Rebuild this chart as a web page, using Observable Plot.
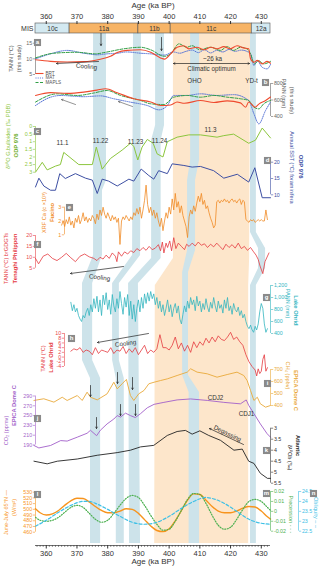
<!DOCTYPE html>
<html>
<head>
<meta charset="utf-8">
<script src="https://cdn.jsdelivr.net/npm/d3@7"></script>
<script src="https://cdn.jsdelivr.net/npm/@observablehq/plot@0.6"></script>
<style>
html,body{margin:0;padding:0;background:#fff;}
#chart{position:relative;width:320px;height:569px;overflow:hidden;}
#chart svg{position:absolute;left:0;top:0;overflow:visible;}
</style>
</head>
<body>
<div id="chart"></div>
<script>
// ---------------- DATA ----------------
// top/bottom axis ticks (ka BP)
const ageTicks = [360, 370, 380, 390, 400, 410, 420, 430];
const minorTicks = [357,358,359,361,362,363,364,365,366,367,368,369,371,372,373,374,375,376,377,378,379,381,382,383,384,385,386,387,388,389,391,392,393,394,395,396,397,398,399,401,402,403,404,405,406,407,408,409,411,412,413,414,415,416,417,418,419,421,422,423,424,425,426,427,428,429,431,432];

// MIS stages
const misNames = ["10c", "11a", "11b", "11c", "12a"];
const misStart = [356.5, 367.6, 390.0, 400.5, 426.9];
const misEnd   = [367.6, 390.0, 400.5, 426.9, 433.0];
const misWarm  = [false, true, true, true, false];

// shaded bands: [row (px), age left, age right]
const bandOrange = [[33,401.4,426.5],[258,401.4,426.2],[285,395.5,425.9],[543,395.3,425.9]];
const bandA = [[33,375.4,379.6],[180,375.4,379.6],[190,375.4,378.3],[255,375.4,378.3],[283,371.8,375.1],[360,371.8,375.1],[378,374.4,377.7],[543,374.4,377.7]];
const bandB = [[33,388.4,391.0],[255,388.1,390.7],[283,381.6,383.8],[360,381.6,383.8],[378,382.8,385.4],[543,382.8,385.4]];
const bandC = [[33,395.6,398.5],[125,395.6,398.5],[140,394.3,397.4],[258,394.3,397.4],[283,386.8,390.0],[543,387.1,390.7]];
const bandD = [[33,407.0,409.9],[160,407.0,409.9],[180,406.0,408.6],[250,406.0,408.6],[272,404.4,406.3],[375,404.4,406.3],[392,406.5,409.9],[543,406.5,409.9]];
const bandE = [[33,426.5,428.4],[232,426.5,428.4],[248,429.1,431.4],[268,429.1,431.4],[285,426.5,428.4],[543,426.5,428.4]];

// (a) TANN this study
const aAgeBRT = [356.5,361.4,366.8,372.2,377.6,380.9,383.1,386.3,390.7,394.0,397.2,398.5,400.5,402.6,404.8,406.4,409.0,411.4,413.6,415.6,417.8,419.9,422.1,424.3,425.9,426.5,427.6,428.7,430.3,431.9,433.0];
const aBRT    = [9.7,9.2,9.0,9.1,9.9,10.8,12.0,12.7,12.9,12.1,10.3,9.9,11.6,13.7,14.2,13.2,13.7,12.9,13.7,13.2,13.9,13.2,14.2,13.5,13.2,10.0,8.9,9.5,8.4,9.2,8.6];
const aAgeMAT = [356.5,361.4,366.8,372.2,376.6,379.8,383.1,386.3,390.7,394.0,398.5,401.4,403.5,405.5,407.5,409.5,411.5,413.5,415.5,417.5,419.5,421.5,423.5,425.5,426.5,427.6,428.7,430.3,431.9,433.0];
const aMAT    = [10.0,11.6,12.7,11.8,11.3,11.6,11.8,12.2,11.8,11.6,11.2,12.2,11.8,12.4,12.8,12.0,12.9,11.9,12.7,12.2,13.0,12.4,12.8,12.3,11.6,7.9,9.4,7.3,6.8,8.2];
const aAgeMAP = [356.5,362.5,370.0,376.0,379.3,385.2,390.7,394.0,398.5,400.5,403.2,405.7,407.5,410.0,413.5,416.7,418.9,421.0,423.2,425.3,426.5,427.8,429.2,430.8,433.0];
const aMAP    = [10.3,11.8,12.1,11.6,12.1,13.2,13.7,12.9,10.8,11.6,14.8,13.7,14.2,12.9,13.7,12.7,13.9,12.7,13.7,13.2,11.6,8.4,9.4,8.4,9.2];

// (b) PANN this study
const bAgeBRT = [356.5,361.4,366.8,372.2,376.5,379.3,383.1,388.5,394.0,397.2,400.5,402.6,405.0,410.2,414.6,418.9,423.2,424.9,425.9,428.0,429.2,431.4,433.0];
const bBRT    = [655,690,680,695,720,736,688,615,575,533,540,575,560,594,570,590,565,513,575,513,550,594,636];
const bAgeMAT = [356.5,361.4,364.7,372.2,377.6,382.0,387.4,392.9,396.7,399.4,401.5,405.9,410.2,415.6,421.0,425.9,427.6,429.2,431.4,433.0];
const bMAT    = [533,634,655,640,650,615,574,533,481,533,655,655,675,655,665,594,433,311,473,575];
const bAgeMAP = [356.5,363.6,370.1,375.5,379.8,384.2,390.7,394.0,398.3,401.5,405.9,410.2,414.6,418.9,423.2,425.9,427.6,429.2,430.8,433.0];
const bMAP    = [575,675,655,685,715,655,594,554,545,634,655,634,655,634,615,594,513,493,554,594];

// (c) d18O G. bulloides ODP 976
const cAge = [356.5,358.7,360.3,363.0,364.6,365.7,370.6,375.0,376.3,378.2,380.9,384.7,387.4,388.5,389.8,391.2,392.9,394.8,396.1,398.0,399.4,402.6,406.4,410.2,415.6,417.8,421.0,425.9,428.1,430.3,433.0];
const cVal = [3.0,2.35,2.85,2.6,2.5,1.7,2.5,2.5,1.35,2.8,2.1,1.55,1.1,1.3,2.2,1.35,0.85,1.1,1.8,2.0,1.0,0.7,0.55,0.55,0.7,0.6,0.5,1.1,0.9,0.1,0.75];
const cLabels = ["11.1", "11.22", "11.23", "11.24", "11.3"];

// (d) annual SST ODP 976
const dAge = [356.5,357.6,359.2,361.4,363.0,364.4,366.2,369.5,372.8,375.0,376.6,378.2,380.3,383.1,385.3,386.9,388.5,390.9,393.4,395.0,396.6,399.4,401.0,404.8,407.5,410.2,414.5,417.8,422.2,425.9,427.9,430.3,433.0];
const dVal = [12.4,15.1,12.7,11.4,11.4,16.5,15.0,16.5,15.1,14.5,10.4,14.8,14.2,12.7,13.9,14.8,14.2,17.9,15.9,14.8,17.4,16.5,19.5,19.0,18.5,18.7,17.4,15.1,16.3,13.9,18.3,9.1,9.1];

// (e) XRF Ca Fucino, sampled every 0.5 ka from 365 ka
const eStart = 365, eStep = 0.5;
const eVal = [
 1.7,2.0,1.6,2.1,1.8,2.3,1.7,2.0,1.5,2.2,
 1.9,2.4,1.8,2.1,2.6,2.0,2.3,1.9,2.2,2.0,
 2.4,2.2,1.8,2.5,2.1,2.8,2.4,3.0,2.5,2.2,
 2.6,2.3,2.0,2.4,2.1,2.3,1.9,2.2,0.3,2.0,
 2.3,2.1,2.4,2.2,2.0,2.3,2.1,2.6,2.4,2.9,
 2.5,3.0,2.2,2.8,3.5,4.6,3.2,2.6,3.0,2.4,
 2.8,2.2,2.6,2.0,1.6,2.2,1.3,2.0,2.6,2.2,
 3.0,2.5,3.6,2.8,4.0,3.0,3.4,2.6,3.1,2.4,
 2.0,1.6,0.8,2.3,2.8,2.5,3.1,2.7,3.3,3.8,
 3.4,4.0,3.2,3.5,2.9,3.1,2.6,2.2,1.9,1.5,
 1.7,3.4,3.5,3.3,3.5,3.4,3.6,3.4,3.5,3.3,
 3.5,3.6,3.4,3.5,3.3,3.5,3.6,3.2,3.5,3.4,
 2.1,2.0,1.9,2.1,2.0,2.1,1.9,2.0,2.1,2.0,
 2.1,2.0,2.0,2.8,2.1];

// (f) TANN brGDGTs Tenaghi Philippon
const fAge = [356.5,357.5,359,360.5,362,363.5,365,366.5,368,369.5,371,372.5,374,375.5,376.5,377.5,378.5,379.5,380.5,381.5,382.5,383,383.5,384.5,385.5,386.5,387.5,388.5,389.5,390.5,391.5,392.5,393.5,394.5,395.5,396.5,397.2,397.8,398.3,399,399.5,400.2,400.8,401.5,402.2,403,404,405,405.7,406.5,407.5,408.5,409.5,410.5,411.5,412.5,413.5,414.5,415.5,416.5,417.5,418.5,419.5,420.5,421.5,422.5,423.5,424.5,425.5,426.5,427.5,428.3,429,429.6,430.5,431.2,432.5];
const fVal = [9.5,7,10.5,11.5,9.5,8.5,10,11.8,9.8,8,10.5,11.5,10.2,9.5,8.5,10,9.2,11,9.5,12,10.5,8,12.5,10.5,12.5,11.5,13,12.2,14,13,14.5,13.2,15,13.5,14.2,15.8,13,17,12,16.5,14.5,17.5,13,19,14,16.5,15,13.5,16,15,16.5,15.2,17,15.5,16.2,14.5,16,14.8,16.5,15,13.5,16,14.5,15.8,14.2,16.5,14,15,13.2,14.5,12.5,11,9,6,2.5,8,12];

// (g) PANN Lake Ohrid, every 0.5 ka from 368 ka
const gStart = 368, gStep = 0.5;
const gVal = [
 920,780,880,760,820,700,640,600,700,660,
 760,820,700,880,760,980,820,1020,760,960,
 700,1040,880,1080,800,960,720,1050,860,760,
 980,820,1100,900,720,1000,840,1050,700,940,
 640,880,600,820,960,760,1000,820,1060,900,
 1080,940,1100,980,1060,880,1000,820,940,760,
 880,700,820,960,760,880,680,820,900,740,
 860,640,560,720,860,760,940,820,1000,880,
 960,780,1020,860,940,760,900,800,980,840,
 760,920,820,1000,860,760,940,820,880,740,
 960,820,1000,780,860,720,900,800,760,840,
 700,780,660,720,600,520,480,540,460,420,
 520,460,560,760,900,820,560,420,480];

// (h) TANN Lake Ohrid
const hAge = [368,369,370,371,372,373,374,375,376,377,378,379,380,381,382,383,384,385,386,387,388,389,390,391,392,393,394,395,396,397,398,399,400,401,402,403,404,405,406,407,408,409,410,411,412,413,414,415,416,417,418,419,420,421,422,423,424,425,426,427,428,428.5,429,429.5,430,430.5,431,431.5,432];
const hVal = [2.5,3.5,3,4,2,3,2.5,1,4,1.5,3,2.5,2,4,1.5,3,2.5,4.5,1.5,3.5,2,4,1,3,5,1.5,3,2,3.5,9.5,4,4,3,5,8.5,3.5,6,2.5,5,2,6.5,4,6.5,5,8,6,8.5,6.5,9,7.5,7,8.5,10.5,7.5,8.5,6.5,5,1,-2,-4,-5.5,-8,-5,-7,-6,-1,1,-6,-4.5];

// (i) CH4 EPICA Dome C
const iAge = [356.0,359.2,362.5,365.2,366.8,370.1,371.7,373.3,374.4,376.6,379.8,382.0,383.1,384.7,386.1,387.4,388.5,390.1,391.8,393.4,395.1,397.2,399.4,402.6,405.9,407.0,409.1,412.4,415.6,418.9,422.1,424.3,425.4,426.5,427.6,428.7,429.7,431.4,433.0];
const iVal = [442,456,428,469,442,483,442,511,469,447,497,594,539,581,617,483,442,497,525,581,594,608,622,650,678,706,678,664,636,658,678,650,608,525,442,469,414,386,400];

// (j) CO2 EPICA Dome C
const jAge = [356.0,357.6,361.4,364.7,366.8,370.1,373.3,374.4,376.4,377.6,379.8,382.0,383.1,384.2,385.8,387.4,389.0,390.7,392.9,395.1,398.3,402.6,407.0,412.4,417.8,423.2,425.1,425.9,427.6,429.7,431.9,433.0];
const jVal = [189,184,189,199,198,206,214,220,209,220,233,243,250,247,255,250,246,254,266,273,277,282,284,281,277,274,282,271,254,233,213,206];

// (k) benthic d18O Atlantic
const kAge = [356.0,360.3,363.6,370.1,376.6,383.1,387.4,390.7,395.0,399.4,402.6,405.3,407.5,410.0,412.9,416.7,421.1,423.8,425.9,427.6,429.7,432.0,433.0];
const kVal = [4.5,4.62,4.5,4.4,4.23,4.11,4.0,3.85,3.78,3.33,3.15,3.1,3.27,3.12,3.33,3.55,4.0,3.95,4.5,4.6,5.05,5.28,5.28];

// (l,m) insolation & precession ages
const lAge = [356.5,358,360,362,364,366,368,370,372,374,376,378,380,382,384,386,388,390,392,394,396,398,400,402,404,406,408,410,412,414,416,418,420,422,424,426,428,430,432,433];
const lVal = [501,494,490,492,498,507,515,519.5,519,513,505,498,494,494,497,501,500,493,482,471,463,461,466,480,498,516,527,526,516,505,497,494,494,497,502,505,504,497,487,483];
const mVal = [-0.006,-0.009,-0.010,-0.009,-0.006,-0.001,0.004,0.006,0.004,-0.002,-0.008,-0.011,-0.009,-0.002,0.006,0.013,0.016,0.014,0.006,-0.004,-0.013,-0.019,-0.018,-0.010,0.001,0.012,0.018,0.017,0.008,-0.004,-0.014,-0.018,-0.016,-0.008,0.002,0.010,0.012,0.010,0.004,0.001];
// (n) obliquity
const nAge = [356.5,360,364,368,372,374,376,380,384,388,392,396,400,404,408,412,414,418,422,426,430,433];
const nVal = [22.75,23.05,23.45,23.8,24.0,24.0,23.9,23.6,23.25,22.95,22.85,22.95,23.25,23.65,24.0,24.2,24.15,23.9,23.5,23.1,22.9,22.85];

// ---------------- LAYOUT ----------------
const FONT = "'Liberation Sans', Arial, Helvetica, sans-serif";
const W = 320, H = 569, PX0 = 35, PX1 = 270, AGE0 = 356.5, AGE1 = 433;
const ageAt = px => AGE0 + (px - PX0) * (AGE1 - AGE0) / (PX1 - PX0);
const STYLE = {background: "transparent", overflow: "visible", fontFamily: FONT, color: "#333"};

const pts = (ages, vals) => vals.map((v, i) => ({a: ages[i], v}));
const reg = (start, step, vals) => vals.map((v, i) => ({a: start + i * step, v}));

function panel({L = PX0, R = W - PX1, top, bottom, domain, reverse = false, yr, axis, color, marks}) {
  const xd = [ageAt(L), ageAt(W - R)];
  const am = [];
  if (axis) {
    am.push(Plot.ruleX([axis.anchor === "left" ? xd[0] : xd[1]], {stroke: axis.color, strokeWidth: 0.6}));
    am.push(Plot.axisY({anchor: axis.anchor, ticks: axis.ticks, tickSize: 2.2, tickPadding: 1.2, fontSize: 5.3,
      color: axis.color, strokeWidth: 0.6, label: null, tickFormat: axis.fmt || (d => String(d))}));
  }
  const o = {
    width: W, height: H, marginLeft: L, marginRight: R, marginTop: top, marginBottom: H - bottom,
    x: {domain: xd, axis: null},
    y: yr ? {domain, range: yr, axis: null} : {domain, reverse, axis: null},
    style: STYLE, marks: [...am, ...marks]
  };
  if (color) o.color = color;
  return Plot.plot(o);
}
const ln = (data, o) => Plot.line(data, {x: "a", y: "v", strokeWidth: 0.8, ...o});

const chart = document.getElementById("chart");
const add = el => chart.appendChild(el);

// ---- background bands ----
const band = (arr, fill) => Plot.areaX(arr.map(([y, a1, a2]) => ({y, a1, a2})), {y: "y", x1: "a1", x2: "a2", fill});
add(panel({top: 0, bottom: H, domain: [0, H], yr: [0, H], marks: [
  band(bandOrange, "#fde6cb"),
  band(bandA, "#cde3ea"), band(bandB, "#cde3ea"), band(bandC, "#cde3ea"),
  band(bandD, "#cde3ea"), band(bandE, "#cde3ea")
]}));

// ---- MIS bar + top axis ----
const mis = misNames.map((n, i) => ({n, s: misStart[i], e: misEnd[i], f: misWarm[i] ? "#f7b466" : "#d3e9f1", m: (misStart[i] + misEnd[i]) / 2}));
add(panel({top: 23, bottom: 33, domain: [0, 1], color: {type: "identity"}, marks: [
  Plot.rect(mis, {x1: "s", x2: "e", y1: 0, y2: 1, fill: "f", stroke: "#555", strokeWidth: 0.6}),
  Plot.text(mis, {x: "m", y: 0.5, text: "n", fontSize: 6.5, fill: "#333"}),
  Plot.axisX({anchor: "top", ticks: ageTicks, tickSize: 3, tickPadding: 1.5, fontSize: 7.5, label: null, color: "#333"})
]}));

// ---- (a) ----
add(panel({top: 42.7, bottom: 74, domain: [5, 15], axis: {anchor: "left", ticks: [5, 10, 15], color: "#666"}, marks: [
  ln(pts(aAgeMAT, aMAT), {stroke: "#5573d6", strokeDasharray: "1,1.2", strokeWidth: 1, curve: "monotone-x"}),
  ln(pts(aAgeMAP, aMAP), {stroke: "#2f9e44", strokeDasharray: "3,1.5", strokeWidth: 1, curve: "monotone-x"}),
  ln(pts(aAgeBRT, aBRT), {stroke: "#ef4a2e", strokeWidth: 1.1, curve: "monotone-x"})
]}));
// ---- (b) ----
add(panel({top: 83, bottom: 116, domain: [400, 800], axis: {anchor: "right", ticks: [400, 600, 800], color: "#666"}, marks: [
  ln(pts(bAgeMAT, bMAT), {stroke: "#5573d6", strokeDasharray: "1,1.2", strokeWidth: 1, curve: "monotone-x"}),
  ln(pts(bAgeMAP, bMAP), {stroke: "#2f9e44", strokeDasharray: "3,1.5", strokeWidth: 1, curve: "monotone-x"}),
  ln(pts(bAgeBRT, bBRT), {stroke: "#ef4a2e", strokeWidth: 1.1, curve: "monotone-x"})
]}));
// ---- (c) ----
add(panel({top: 126, bottom: 171.7, domain: [0, 3], reverse: true, axis: {anchor: "left", ticks: [0, 0.5, 1, 1.5, 2, 2.5, 3], color: "#8cc63e"}, marks: [
  ln(pts(cAge, cVal), {stroke: "#8cc63e", strokeWidth: 1})
]}));
// ---- (d) ----
add(panel({top: 161.7, bottom: 194.3, domain: [10, 20], axis: {anchor: "right", ticks: [10, 15, 20], color: "#3d4fa3"}, marks: [
  ln(pts(dAge, dVal), {stroke: "#3d4fa3", strokeWidth: 1})
]}));
// ---- (e) ----
add(panel({L: 64, top: 206.7, bottom: 234.3, domain: [1, 3], axis: {anchor: "left", ticks: [1, 2, 3], color: "#f08a24"}, marks: [
  ln(reg(eStart, eStep, eVal), {stroke: "#f08a24", strokeWidth: 0.8})
]}));
// ---- (f) ----
add(panel({top: 235, bottom: 267.7, domain: [5, 20], axis: {anchor: "left", ticks: [5, 10, 15, 20], color: "#e8474c"}, marks: [
  ln(pts(fAge, fVal), {stroke: "#e53a3f", strokeWidth: 0.8})
]}));
// ---- (g) ----
add(panel({top: 285, bottom: 333, domain: [400, 1200], axis: {anchor: "right", ticks: [400, 600, 800, 1000, 1200], color: "#32b5bf", fmt: d3.format(",")}, marks: [
  ln(reg(gStart, gStep, gVal), {stroke: "#32b5bf", strokeWidth: 0.8})
]}));
// ---- (h) ----
add(panel({L: 64, top: 333, bottom: 366, domain: [-4, 10], axis: {anchor: "left", ticks: [-4, -2, 0, 2, 4, 6, 8, 10], color: "#e8474c"}, marks: [
  ln(pts(hAge, hVal), {stroke: "#e53a3f", strokeWidth: 0.8})
]}));
// ---- (i) ----
add(panel({top: 369, bottom: 405, domain: [400, 700], axis: {anchor: "right", ticks: [400, 500, 600, 700], color: "#e9a93a"}, marks: [
  ln(pts(iAge, iVal), {stroke: "#e9a93a", strokeWidth: 0.9})
]}));
// ---- (j) ----
add(panel({top: 395.5, bottom: 444.5, domain: [190, 290], axis: {anchor: "left", ticks: [190, 210, 230, 250, 270, 290], color: "#a25fc9"}, marks: [
  ln(pts(jAge, jVal), {stroke: "#a25fc9", strokeWidth: 0.9})
]}));
// ---- (k) ----
add(panel({top: 427.7, bottom: 482.7, domain: [3, 5.5], reverse: true, axis: {anchor: "right", ticks: [3, 3.5, 4, 4.5, 5, 5.5], color: "#333"}, marks: [
  ln(pts(kAge, kVal), {stroke: "#222", strokeWidth: 0.9})
]}));
// ---- (l) ----
add(panel({top: 491.7, bottom: 531.7, domain: [460, 530], axis: {anchor: "left", ticks: [460, 470, 480, 490, 500, 510, 520, 530], color: "#f7941d"}, marks: [
  ln(pts(lAge, lVal), {stroke: "#f7941d", strokeWidth: 1.4, curve: "monotone-x"})
]}));
// ---- (m) ----
add(panel({top: 491, bottom: 530.7, domain: [-0.02, 0.02], axis: {anchor: "right", ticks: [-0.02, -0.01, 0, 0.01, 0.02], color: "#4cb050"}, marks: [
  ln(pts(lAge, mVal), {stroke: "#4cb050", strokeWidth: 1.2, strokeDasharray: "1,1.6", curve: "monotone-x"})
]}));
// ---- (n) ----
add(panel({R: 22, top: 491, bottom: 530.7, domain: [22.5, 24.5], axis: {anchor: "right", ticks: [22.5, 23, 23.5, 24, 24.5], color: "#3ec0e6"}, marks: [
  ln(pts(nAge, nVal), {stroke: "#3ec0e6", strokeWidth: 1.2, strokeDasharray: "3,2", curve: "monotone-x"})
]}));

// ---- bottom axis ----
add(panel({top: 540, bottom: 545, domain: [0, 1], marks: [
  Plot.ruleY([0], {stroke: "#333", strokeWidth: 0.7}),
  Plot.axisX({anchor: "bottom", ticks: minorTicks, tickSize: 2, tickFormat: () => "", label: null, color: "#333", strokeWidth: 0.5}),
  Plot.axisX({anchor: "bottom", ticks: ageTicks, tickSize: 3.5, tickPadding: 1.5, fontSize: 7.5, label: null, color: "#333"})
]}));

// ---------------- ANNOTATIONS (pixel space) ----------------
const leftTitles = [
  {x: 11, y: 58, t: "TANN (°C)", c: "#555"},
  {x: 19, y: 58, t: "(this study)", c: "#555"},
  {x: 8, y: 136, t: "δ¹⁸O G.bulloides (‰ PDB)", c: "#8cc63e"},
  {x: 44, y: 212, t: "XRF Ca (c ×10³)", c: "#f08a24"},
  {x: 6, y: 258, t: "TANN (°C) brGDGTs", c: "#e53a3f"},
  {x: 43, y: 358, t: "TANN (°C)", c: "#e53a3f"},
  {x: 6, y: 430, t: "CO₂ (ppmv)", c: "#a25fc9"},
  {x: 6, y: 512, t: "June-July 65°N —", c: "#f7941d"},
  {x: 14, y: 507, t: "(W/m²)", c: "#f7941d"}
];
const leftBold = [
  {x: 16, y: 145, t: "ODP 976", c: "#6fae2c"},
  {x: 52, y: 212, t: "Fucino", c: "#f08a24"},
  {x: 15, y: 258, t: "Tenaghi Philippon", c: "#e53a3f"},
  {x: 51, y: 357, t: "Lake Ohrid", c: "#e53a3f"},
  {x: 14, y: 405, t: "EPICA Dome C", c: "#a25fc9"}
];
const rightTitles = [
  {x: 283, y: 93, t: "PANN (mm)", c: "#555"},
  {x: 291, y: 100, t: "(this study)", c: "#555"},
  {x: 291, y: 167, t: "Annual SST (°C) foraminifera", c: "#3d4fa3"},
  {x: 287, y: 303, t: "PANN (mm)", c: "#32b5bf"},
  {x: 287, y: 375, t: "CH₄ (ppbv)", c: "#e9a93a"},
  {x: 289, y: 457, t: "δ¹⁸Ob (‰)", c: "#222"},
  {x: 290, y: 514, t: "Precession - - -", c: "#4cb050"},
  {x: 315, y: 512, t: "Obliquity – –", c: "#3ec0e6"}
];
const rightBold = [
  {x: 300, y: 166, t: "ODP 976", c: "#3d4fa3"},
  {x: 295, y: 310, t: "Lake Ohrid", c: "#32b5bf"},
  {x: 295, y: 390, t: "EPICA Dome C", c: "#e9a93a"},
  {x: 297, y: 445, t: "Atlantic", c: "#222"}
];
const letters = [
  {x: 37, y: 42, t: "a"}, {x: 265, y: 82, t: "b"}, {x: 37, y: 131, t: "c"}, {x: 267, y: 160, t: "d"},
  {x: 69, y: 207, t: "e"}, {x: 37, y: 244, t: "f"}, {x: 266, y: 297, t: "g"}, {x: 71, y: 338, t: "h"},
  {x: 267, y: 383, t: "i"}, {x: 37, y: 418, t: "j"}, {x: 266, y: 450, t: "k"}, {x: 37, y: 494, t: "l"},
  {x: 266, y: 493, t: "m"}, {x: 313, y: 493, t: "n"}
];
const notes = [
  {x: 212, y: 58, t: "~26 ka"}, {x: 211, y: 68, t: "Climatic optimum"},
  {x: 194, y: 80, t: "OHO"}, {x: 251, y: 80, t: "YD-t"},
  {x: 62, y: 142, t: cLabels[0]}, {x: 100, y: 140, t: cLabels[1]}, {x: 135, y: 141, t: cLabels[2]},
  {x: 159, y: 140, t: cLabels[3]}, {x: 210, y: 129, t: cLabels[4]},
  {x: 215, y: 397, t: "CDJ2"}, {x: 246, y: 413, t: "CDJ1"}
];
const legendItems = [
  {y: 73, t: "BRT", c: "#ef4a2e", d: null},
  {y: 77.5, t: "MAT", c: "#5573d6", d: "1,1.2"},
  {y: 82, t: "MAPLS", c: "#2f9e44", d: "3,1.5"}
];
const blackArrows = [
  {x1: 100.5, y1: 33, x2: 100.5, y2: 45}, {x1: 161, y1: 37, x2: 161, y2: 50},
  {x1: 98, y1: 61, x2: 56, y2: 63},
  {x1: 123, y1: 266, x2: 70, y2: 273},
  {x1: 148, y1: 333, x2: 97, y2: 342},
  {x1: 90, y1: 385, x2: 90, y2: 396}, {x1: 117, y1: 372, x2: 117, y2: 383}, {x1: 132, y1: 377, x2: 132, y2: 389},
  {x1: 96, y1: 417, x2: 96, y2: 428}, {x1: 120, y1: 404, x2: 120, y2: 415}, {x1: 135, y1: 404, x2: 135, y2: 415},
  {x1: 243, y1: 444, x2: 209, y2: 428},
  {x1: 211, y1: 63, x2: 173, y2: 63}, {x1: 211, y1: 63, x2: 249, y2: 63}
];
const greyArrows = [
  {x1: 75, y1: 104, x2: 61, y2: 99}, {x1: 132, y1: 106, x2: 118, y2: 101}
];
const rotNotes = [
  {x: 86, y: 66, t: "Cooling", r: 5}, {x: 99, y: 277, t: "Cooling", r: 7},
  {x: 125, y: 343, t: "Cooling", r: -8}, {x: 227, y: 433, t: "Degassing", r: 26}
];

add(Plot.plot({
  width: W, height: H, margin: 0,
  x: {domain: [0, W], range: [0, W], axis: null},
  y: {domain: [0, H], range: [0, H], axis: null},
  color: {type: "identity"},
  style: STYLE,
  marks: [
    Plot.text(leftTitles, {x: "x", y: "y", text: "t", fill: "c", rotate: -90, fontSize: 5.6}),
    Plot.text(leftBold, {x: "x", y: "y", text: "t", fill: "c", rotate: -90, fontSize: 5.8, fontWeight: "bold"}),
    Plot.text(rightTitles, {x: "x", y: "y", text: "t", fill: "c", rotate: 90, fontSize: 5.6}),
    Plot.text(rightBold, {x: "x", y: "y", text: "t", fill: "c", rotate: 90, fontSize: 5.8, fontWeight: "bold"}),
    Plot.dot(letters, {x: "x", y: "y", symbol: "square", r: 4, fill: "#8a8a8a"}),
    Plot.text(letters, {x: "x", y: "y", text: "t", fill: "white", fontSize: 6, fontWeight: "bold"}),
    Plot.text(notes, {x: "x", y: "y", text: "t", fill: "#333", fontSize: 6.3}),
    Plot.text(rotNotes, {x: "x", y: "y", text: "t", rotate: "r", fill: "#333", fontSize: 6.3}),
    Plot.text([{x: 152.5, y: 5, t: "Age (ka BP)"}, {x: 152.5, y: 561, t: "Age (ka BP)"}], {x: "x", y: "y", text: "t", fill: "#333", fontSize: 8}),
    Plot.text([{x: 33, y: 28, t: "MIS"}], {x: "x", y: "y", text: "t", fill: "#333", fontSize: 7, textAnchor: "end"}),
    Plot.link(legendItems.filter(d => !d.d), {x1: 35, x2: 43, y1: "y", y2: "y", stroke: "c", strokeWidth: 1.1}),
    Plot.link(legendItems.filter(d => d.d === "1,1.2"), {x1: 35, x2: 43, y1: "y", y2: "y", stroke: "c", strokeWidth: 1, strokeDasharray: "1,1.2"}),
    Plot.link(legendItems.filter(d => d.d === "3,1.5"), {x1: 35, x2: 43, y1: "y", y2: "y", stroke: "c", strokeWidth: 1, strokeDasharray: "3,1.5"}),
    Plot.text(legendItems, {x: 45, y: "y", text: "t", fill: "#555", fontSize: 4.6, textAnchor: "start"}),
    Plot.arrow(blackArrows, {x1: "x1", y1: "y1", x2: "x2", y2: "y2", stroke: "#222", strokeWidth: 0.7, headLength: 3.5}),
    Plot.arrow(greyArrows, {x1: "x1", y1: "y1", x2: "x2", y2: "y2", stroke: "#666", strokeWidth: 0.7, headLength: 3.5})
  ]
}));
</script>
</body>
</html>
